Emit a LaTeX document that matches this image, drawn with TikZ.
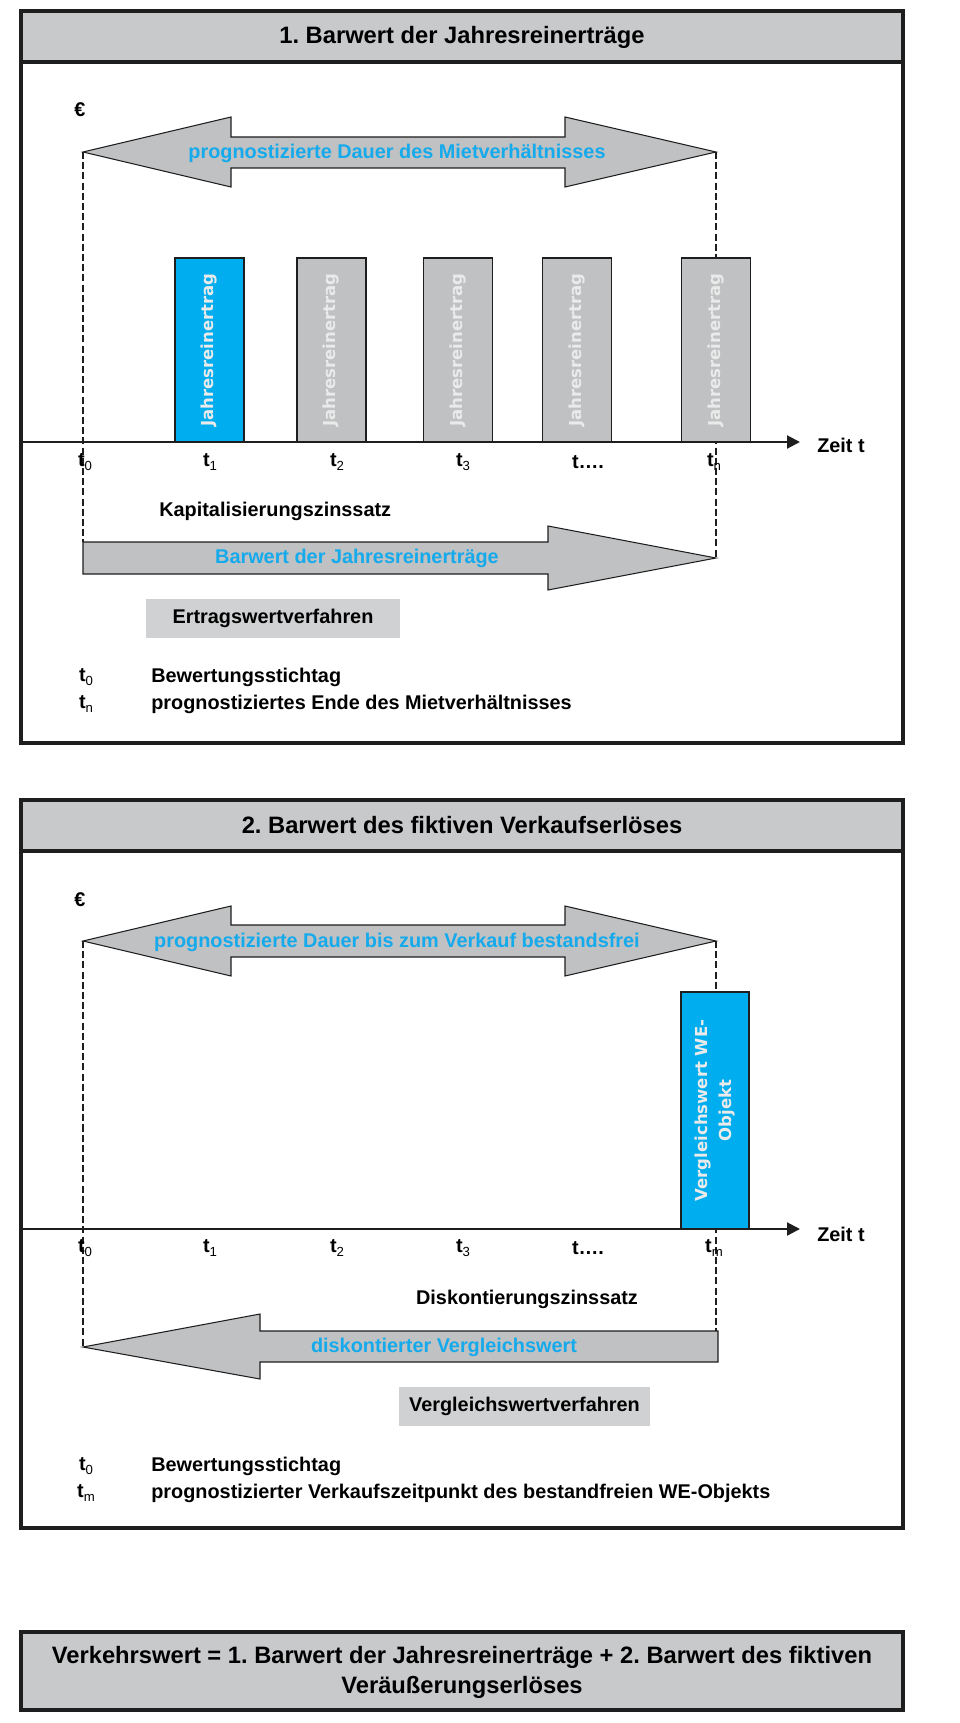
\documentclass[tikz,border=0pt]{standalone}
\usepackage{fontspec}
\setmainfont{Liberation Sans}
\newfontfamily\barfont{DejaVu Sans}
\frenchspacing
\usetikzlibrary{arrows.meta}
\definecolor{linegray}{HTML}{1E1E1E}
\definecolor{hdrgray}{HTML}{C8C9CB}
\definecolor{arrowgray}{HTML}{BFC1C3}
\definecolor{labelgray}{HTML}{D0D1D2}
\definecolor{barblue}{HTML}{00AEEF}
\definecolor{txtblue}{HTML}{14AAEC}
\definecolor{bartext}{HTML}{EAEAEA}
\newcommand{\tsub}[1]{t\raisebox{-.4ex}{\fontsize{7.5}{8}\selectfont\mdseries#1}}

\begin{document}
\begin{tikzpicture}
  [x=.2mm,y=-.2mm,
   every node/.style={font=\fontsize{11.3}{14}\selectfont\bfseries,inner sep=0pt},
   frame/.style={draw=linegray,line width=2.3pt},
   band/.style={fill=hdrgray},
   title/.style={font=\fontsize{13.5}{17}\selectfont\bfseries,align=center},
   bigarrow/.style={draw=linegray,line width=.6pt,fill=arrowgray},
   bluetext/.style={text=txtblue},
   bar/.style={draw=linegray,line width=.8pt,rotate=90,minimum width=36.8mm,
     minimum height=13.8mm,text=bartext,align=center,
     font=\barfont\fontsize{9.4}{13.5}\selectfont\bfseries},
   methodbox/.style={fill=labelgray,minimum height=7.8mm},
   timeline/.style={draw=linegray,line width=1.2pt,-{Triangle[length=2.6mm,width=2.6mm]}},
   guide/.style={draw=linegray,line width=.6pt,dash pattern=on 4pt off 1.8pt}]
  \useasboundingbox (0,0) rectangle (960,1723);

  \fill[band] (21,11) rectangle (903,62);
  \draw[frame] (21,11) rectangle (903,743);
  \draw[frame] (21,62) -- (903,62);
  \node[title] (title1) at (462,37) {1. Barwert der Jahresreinerträge};
  \node (euro1) at (80,110) {€};

  \coordinate (dA-l) at (83,152);
  \coordinate (dA-r) at (716,152);
  \coordinate (rB-l) at (83,542);
  \coordinate (rB-r) at (716,558);
  \draw[guide] (dA-l) -- (rB-l);
  \draw[guide] (dA-r) -- (rB-r);

  \draw[bigarrow] (dA-l) -- (231,117) -- (231,137) -- (565,137) -- (565,117) -- (dA-r)
    -- (565,187) -- (565,168) -- (231,168) -- (231,187) -- cycle;
  \node[bluetext] (dauer1) at (397,153) {prognostizierte Dauer des Mietverhältnisses};

  \foreach \x/\c/\n in {209.5/barblue/1,331.5/arrowgray/2,458/arrowgray/3,577/arrowgray/4,716/arrowgray/5}
    \node[bar,fill=\c] (bar\n) at (\x,350) {Jahresreinertrag};

  \coordinate (ax1-s) at (21,442);
  \coordinate (ax1-e) at (800,442);
  \draw[timeline] (ax1-s) -- (ax1-e);
  \node (zeit1) at (841,445) {Zeit t};
  \foreach \x/\l [count=\i] in {85/{\tsub{0}},210/{\tsub{1}},337/{\tsub{2}},463/{\tsub{3}},588/{t….},714/{\tsub{n}}}
    \node (tick1\i) at (\x,462) {\l};

  \node[anchor=west] (kapzins) at (159,511) {Kapitalisierungszinssatz};
  \draw[bigarrow] (rB-l) -- (548,542) -- (548,526) -- (rB-r) -- (548,590) -- (548,574) -- (83,574) -- cycle;
  \node[bluetext] (barwert1) at (357,558) {Barwert der Jahresreinerträge};
  \node[methodbox,minimum width=50.8mm] (ertrag) at (273,618.5) {Ertragswertverfahren};

  \node (lg1-t0) at (86,677) {\tsub{0}};
  \node[anchor=west] (lg1-a) at (151,677) {Bewertungsstichtag};
  \node (lg1-tn) at (86,704) {\tsub{n}};
  \node[anchor=west] (lg1-b) at (151,704) {prognostiziertes Ende des Mietverhältnisses};

  \fill[band] (21,800) rectangle (903,851);
  \draw[frame] (21,800) rectangle (903,1528);
  \draw[frame] (21,851) -- (903,851);
  \node[title] (title2) at (462,825) {2. Barwert des fiktiven Verkaufserlöses};
  \node (euro2) at (80,900) {€};

  \coordinate (dC-l) at (83,941);
  \coordinate (dC-r) at (716,941);
  \coordinate (lD-l) at (83,1347);
  \coordinate (lD-r) at (716,1331);
  \draw[guide] (dC-l) -- (lD-l);
  \draw[guide] (dC-r) -- (lD-r);

  \draw[bigarrow] (dC-l) -- (231,906) -- (231,925) -- (565,925) -- (565,906) -- (dC-r)
    -- (565,976) -- (565,957) -- (231,957) -- (231,976) -- cycle;
  \node[bluetext] (dauer2) at (397,942) {prognostizierte Dauer bis zum Verkauf bestandsfrei};

  \node[bar,fill=barblue,minimum width=47.4mm,minimum height=13.6mm] (vgl) at (715,1110.5)
    {Vergleichswert WE-\\Objekt};

  \coordinate (ax2-s) at (21,1229);
  \coordinate (ax2-e) at (800,1229);
  \draw[timeline] (ax2-s) -- (ax2-e);
  \node (zeit2) at (841,1234) {Zeit t};
  \foreach \x/\l [count=\i] in {85/{\tsub{0}},210/{\tsub{1}},337/{\tsub{2}},463/{\tsub{3}},588/{t….},714/{\tsub{m}}}
    \node (tick2\i) at (\x,1248) {\l};

  \node (diskzins) at (527,1299) {Diskontierungszinssatz};
  \draw[bigarrow] (lD-l) -- (260,1314) -- (260,1331) -- (718,1331) -- (718,1362) -- (260,1362) -- (260,1379) -- cycle;
  \node[bluetext] (diskwert) at (444,1347) {diskontierter Vergleichswert};
  \node[methodbox,minimum width=50.2mm] (vergleich) at (524.5,1406.5) {Vergleichswertverfahren};

  \node (lg2-t0) at (86,1466) {\tsub{0}};
  \node[anchor=west] (lg2-a) at (151,1466) {Bewertungsstichtag};
  \node (lg2-tm) at (86,1493) {\tsub{m}};
  \node[anchor=west] (lg2-b) at (151,1493) {prognostizierter Verkaufszeitpunkt des bestandfreien WE-Objekts};

  \fill[band] (21,1632) rectangle (903,1710);
  \draw[frame] (21,1632) rectangle (903,1710);
  \node[title] (summe) at (462,1672)
    {Verkehrswert = 1. Barwert der Jahresreinerträge + 2. Barwert des fiktiven\\Veräußerungserlöses};

\end{tikzpicture}
\end{document}
